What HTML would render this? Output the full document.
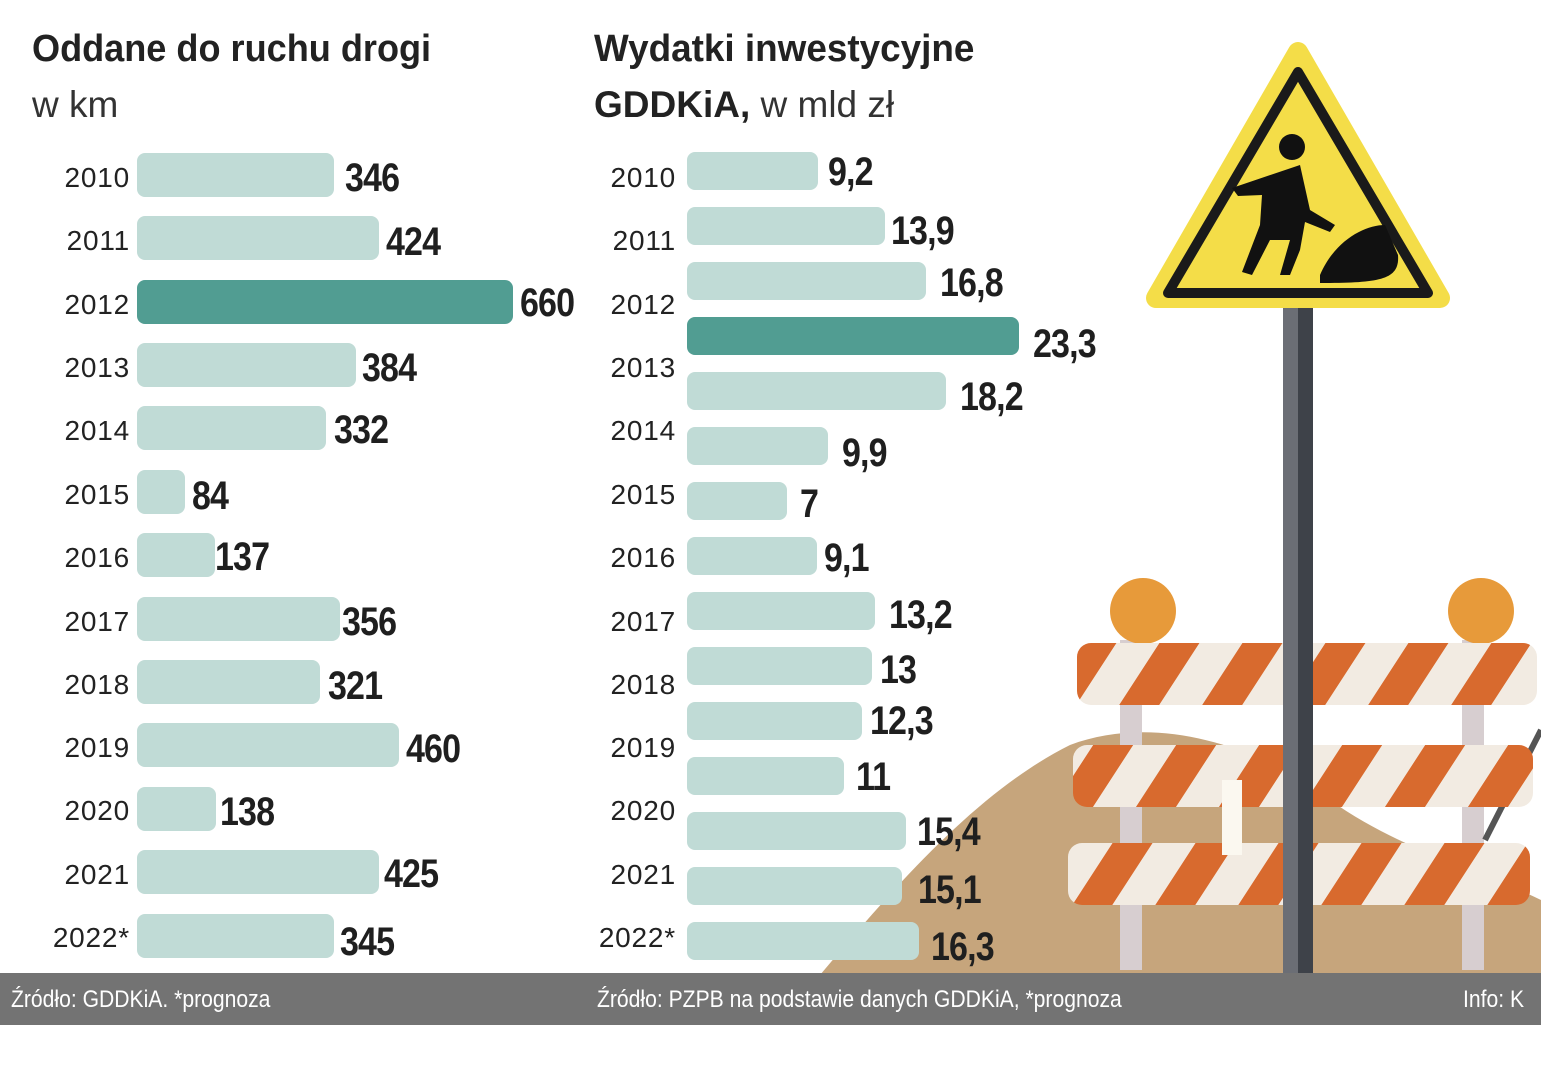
<!DOCTYPE html>
<html><head><meta charset="utf-8"><style>
body{margin:0;width:1541px;height:1080px;background:#fff;position:relative;overflow:hidden;font-family:"Liberation Sans",sans-serif;color:#222}
.a{position:absolute}
.b{position:absolute;background:#c0dbd6;border-radius:8px}
.h{background:#519d92}
.y{position:absolute;font-size:28px;line-height:30px;text-align:right;width:100px;letter-spacing:0.8px;color:#222}
.v{position:absolute;font-size:40px;font-weight:bold;line-height:40px;transform:scaleX(0.85);transform-origin:left center;letter-spacing:-1px;color:#1f1f1f}
</style></head><body>
<svg class="a" style="left:0;top:0" width="1541" height="1080">
<path d="M820 975 C900 880 980 790 1070 745 C1150 715 1250 740 1330 800 C1400 850 1480 870 1541 900 L1541 975Z" fill="#c6a57c"/>
<rect x="1120" y="640" width="22" height="330" fill="#d7ced0"/>
<rect x="1462" y="640" width="22" height="330" fill="#d7ced0"/>
<line x1="1485" y1="840" x2="1541" y2="730" stroke="#555" stroke-width="6"/>
<circle cx="1143" cy="611" r="33" fill="#e79a3a"/>
<circle cx="1481" cy="611" r="33" fill="#e79a3a"/>
<defs><pattern id="st" patternUnits="userSpaceOnUse" width="83" height="70" patternTransform="skewX(-33)"><rect width="83" height="70" fill="#f2ebe2"/><rect width="40" height="70" fill="#d86a2e"/></pattern></defs>
<rect x="1077" y="643" width="460" height="62" rx="14" fill="url(#st)"/>
<rect x="1073" y="745" width="460" height="62" rx="14" fill="url(#st)"/>
<rect x="1068" y="843" width="462" height="62" rx="14" fill="url(#st)"/>
<rect x="1222" y="780" width="20" height="75" fill="#fbf8f0"/>
<rect x="1283" y="305" width="30" height="675" fill="#6b6e75"/>
<rect x="1298" y="305" width="15" height="675" fill="#3e4249"/>
<path d="M1298 52 L1440 298 L1156 298Z" fill="#f4dd48" stroke="#f4dd48" stroke-width="20" stroke-linejoin="round"/>
<path d="M1298 72 L1428 293 L1168 293Z" fill="none" stroke="#1a1a1a" stroke-width="10" stroke-linejoin="round"/>
<circle cx="1292" cy="147" r="13" fill="#111"/>
<path d="M1232 188 L1300 165 L1310 210 L1335 225 L1330 232 L1305 222 L1300 250 L1290 275 L1280 275 L1290 240 L1270 240 L1252 275 L1242 272 L1260 225 L1262 195 L1238 196Z" fill="#111"/>
<path d="M1320 275 C1335 240 1365 225 1385 225 L1398 255 C1400 280 1380 283 1320 283Z" fill="#111"/>
</svg>
<div class="a" style="left:32px;top:28px;font-size:38px;font-weight:bold;transform:scaleX(0.95);transform-origin:left;white-space:nowrap">Oddane do ruchu drogi</div>
<div class="a" style="left:32px;top:84px;font-size:37px;color:#333">w km</div>
<div class="a" style="left:594px;top:28px;font-size:38px;font-weight:bold;transform:scaleX(0.97);transform-origin:left;white-space:nowrap">Wydatki inwestycyjne</div>
<div class="a" style="left:594px;top:84px;font-size:37px;white-space:nowrap;transform:scaleX(1.0);transform-origin:left"><b>GDDKiA,</b> <span style="color:#333">w mld zł</span></div>

<div class="y" style="left:30px;top:163px">2010</div>
<div class="y" style="left:30px;top:226px">2011</div>
<div class="y" style="left:30px;top:290px">2012</div>
<div class="y" style="left:30px;top:353px">2013</div>
<div class="y" style="left:30px;top:416px">2014</div>
<div class="y" style="left:30px;top:480px">2015</div>
<div class="y" style="left:30px;top:543px">2016</div>
<div class="y" style="left:30px;top:607px">2017</div>
<div class="y" style="left:30px;top:670px">2018</div>
<div class="y" style="left:30px;top:733px">2019</div>
<div class="y" style="left:30px;top:796px">2020</div>
<div class="y" style="left:30px;top:860px">2021</div>
<div class="y" style="left:30px;top:923px">2022*</div>

<div class="b" style="left:137px;top:153px;width:197px;height:44px"></div>
<div class="b" style="left:137px;top:216px;width:242px;height:44px"></div>
<div class="b h" style="left:137px;top:280px;width:376px;height:44px"></div>
<div class="b" style="left:137px;top:343px;width:219px;height:44px"></div>
<div class="b" style="left:137px;top:406px;width:189px;height:44px"></div>
<div class="b" style="left:137px;top:470px;width:48px;height:44px"></div>
<div class="b" style="left:137px;top:533px;width:78px;height:44px"></div>
<div class="b" style="left:137px;top:597px;width:203px;height:44px"></div>
<div class="b" style="left:137px;top:660px;width:183px;height:44px"></div>
<div class="b" style="left:137px;top:723px;width:262px;height:44px"></div>
<div class="b" style="left:137px;top:787px;width:79px;height:44px"></div>
<div class="b" style="left:137px;top:850px;width:242px;height:44px"></div>
<div class="b" style="left:137px;top:914px;width:197px;height:44px"></div>

<div class="v" style="left:345px;top:158px">346</div>
<div class="v" style="left:386px;top:222px">424</div>
<div class="v" style="left:520px;top:283px">660</div>
<div class="v" style="left:362px;top:348px">384</div>
<div class="v" style="left:334px;top:410px">332</div>
<div class="v" style="left:192px;top:476px">84</div>
<div class="v" style="left:215px;top:537px">137</div>
<div class="v" style="left:342px;top:602px">356</div>
<div class="v" style="left:328px;top:666px">321</div>
<div class="v" style="left:406px;top:729px">460</div>
<div class="v" style="left:220px;top:792px">138</div>
<div class="v" style="left:384px;top:854px">425</div>
<div class="v" style="left:340px;top:922px">345</div>

<div class="y" style="left:576px;top:163px">2010</div>
<div class="y" style="left:576px;top:226px">2011</div>
<div class="y" style="left:576px;top:290px">2012</div>
<div class="y" style="left:576px;top:353px">2013</div>
<div class="y" style="left:576px;top:416px">2014</div>
<div class="y" style="left:576px;top:480px">2015</div>
<div class="y" style="left:576px;top:543px">2016</div>
<div class="y" style="left:576px;top:607px">2017</div>
<div class="y" style="left:576px;top:670px">2018</div>
<div class="y" style="left:576px;top:733px">2019</div>
<div class="y" style="left:576px;top:796px">2020</div>
<div class="y" style="left:576px;top:860px">2021</div>
<div class="y" style="left:576px;top:923px">2022*</div>

<div class="b" style="left:687px;top:152px;width:131px;height:38px"></div>
<div class="b" style="left:687px;top:207px;width:198px;height:38px"></div>
<div class="b" style="left:687px;top:262px;width:239px;height:38px"></div>
<div class="b h" style="left:687px;top:317px;width:332px;height:38px"></div>
<div class="b" style="left:687px;top:372px;width:259px;height:38px"></div>
<div class="b" style="left:687px;top:427px;width:141px;height:38px"></div>
<div class="b" style="left:687px;top:482px;width:100px;height:38px"></div>
<div class="b" style="left:687px;top:537px;width:130px;height:38px"></div>
<div class="b" style="left:687px;top:592px;width:188px;height:38px"></div>
<div class="b" style="left:687px;top:647px;width:185px;height:38px"></div>
<div class="b" style="left:687px;top:702px;width:175px;height:38px"></div>
<div class="b" style="left:687px;top:757px;width:157px;height:38px"></div>
<div class="b" style="left:687px;top:812px;width:219px;height:38px"></div>
<div class="b" style="left:687px;top:867px;width:215px;height:38px"></div>
<div class="b" style="left:687px;top:922px;width:232px;height:38px"></div>

<div class="v" style="left:828px;top:152px">9,2</div>
<div class="v" style="left:891px;top:211px">13,9</div>
<div class="v" style="left:940px;top:263px">16,8</div>
<div class="v" style="left:1033px;top:324px">23,3</div>
<div class="v" style="left:960px;top:377px">18,2</div>
<div class="v" style="left:842px;top:433px">9,9</div>
<div class="v" style="left:800px;top:484px">7</div>
<div class="v" style="left:824px;top:538px">9,1</div>
<div class="v" style="left:889px;top:595px">13,2</div>
<div class="v" style="left:880px;top:650px">13</div>
<div class="v" style="left:870px;top:701px">12,3</div>
<div class="v" style="left:856px;top:757px">11</div>
<div class="v" style="left:917px;top:812px">15,4</div>
<div class="v" style="left:918px;top:870px">15,1</div>
<div class="v" style="left:931px;top:927px">16,3</div>

<div class="a" style="left:0;top:973px;width:1541px;height:52px;background:#737373"></div>
<div class="a" style="left:11px;top:986px;font-size:24px;color:#fff;transform:scaleX(0.88);transform-origin:left;white-space:nowrap">Źródło: GDDKiA. *prognoza</div>
<div class="a" style="left:597px;top:986px;font-size:24px;color:#fff;transform:scaleX(0.88);transform-origin:left;white-space:nowrap">Źródło: PZPB na podstawie danych GDDKiA, *prognoza</div>
<div class="a" style="left:1463px;top:986px;font-size:24px;color:#fff;transform:scaleX(0.88);transform-origin:left;white-space:nowrap">Info: K</div>
</body></html>
